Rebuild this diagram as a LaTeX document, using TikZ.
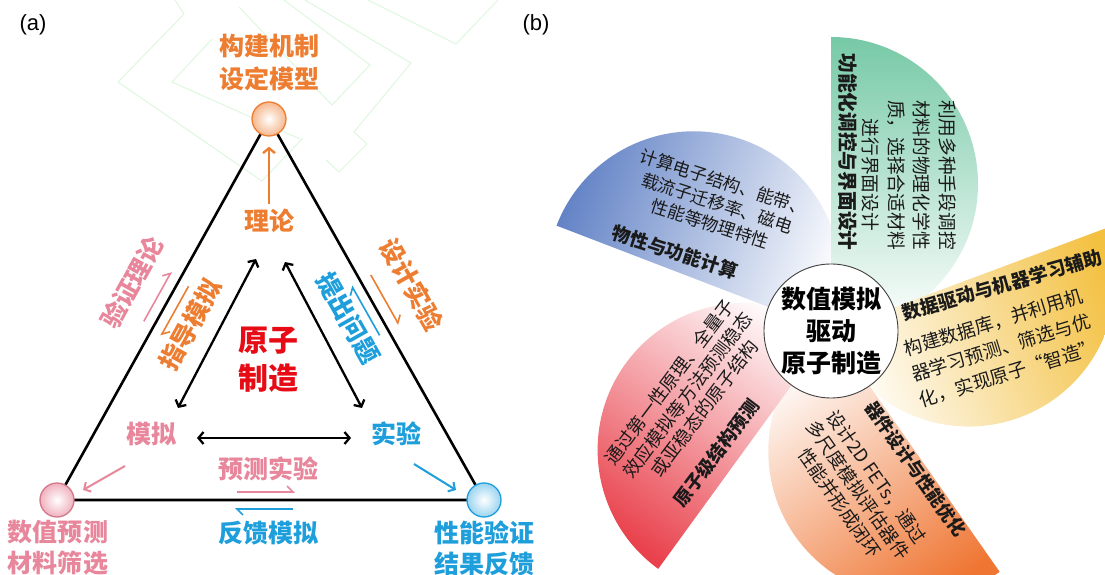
\documentclass[tikz,border=0pt]{standalone}
\usepackage{fontspec}
\setmainfont{Liberation Sans}
\newfontfamily\cjk{Noto Sans CJK SC}
\usetikzlibrary{arrows.meta,calc}
\definecolor{orA}{HTML}{ED7D31}
\definecolor{pkA}{HTML}{E8879B}
\definecolor{blA}{HTML}{1E9FDC}
\definecolor{rdA}{HTML}{E60B14}
\definecolor{bgline}{HTML}{DFF7DF}
\definecolor{pgreen}{HTML}{76C9A6}
\definecolor{pblue}{HTML}{6383C6}
\definecolor{pred}{HTML}{E9424D}
\definecolor{porange}{HTML}{EF7532}
\definecolor{pyellow}{HTML}{F3C040}
\definecolor{txt}{HTML}{1A1A1A}
\begin{document}
\begin{tikzpicture}[x=1pt,y=1pt,
  lab/.style={font=\cjk\bfseries\fontsize{25}{31}\selectfont, align=center, inner sep=0pt},
  side/.style={line width=2.6pt, black},
  dbl/.style={line width=2.3pt, {Straight Barb[length=5pt,width=12pt]}-{Straight Barb[length=5pt,width=12pt]}},
  sgl/.style={line width=2.3pt, -{Straight Barb[length=5pt,width=12pt]}},
  harp/.style={line width=1.6pt, -{Straight Barb[left,length=6pt,width=12pt]}},
  ball/.style={circle, minimum size=34pt, inner sep=0pt, line width=1.3pt},
  ptitle/.style={font=\cjk\bfseries\fontsize{#1}{#1}\selectfont, text=txt, inner sep=0pt},
  pbody/.style n args={2}{font=\cjk\fontsize{#1}{#2}\selectfont, text=txt, align=center, inner sep=0pt},
]
\useasboundingbox (0,0) rectangle (1105,575);
\fill[white] (0,0) rectangle (1105,575);

% faint background decoration
\begin{scope}[bgline, line width=1pt]
\draw (175,575) -- (184,561) -- (118,493) -- (262,394) -- (303,437);
\draw (212,536) -- (172,493) -- (300,436);
\draw (239,568) -- (332,470) -- (370,510) -- (284,575);
\draw (305,575) -- (411,512) -- (354,443) -- (367,431) -- (339,403) -- (326,415);
\draw (368,575) -- (456,531) -- (498,575);
\end{scope}

% ---------- panel (a) ----------
\node[font=\fontsize{22}{22}\selectfont, inner sep=0pt] (pa) at (33,550) {(a)};
\node[font=\fontsize{22}{22}\selectfont, inner sep=0pt] (pb) at (536,550) {(b)};

\coordinate (Tc) at (269,456);
\coordinate (Lc) at (57,75);
\coordinate (Rc) at (484,75);
\draw[side] (Tc) -- (Lc) -- (Rc) -- cycle;
\node[ball, draw=orA, inner color=white, outer color=orA!55!white] (T) at (Tc) {};
\node[ball, draw=pkA!90!black, inner color=white, outer color=pkA!65!white] (L) at (Lc) {};
\node[ball, draw=blA, inner color=white, outer color=blA!45!white] (R) at (Rc) {};

\node[lab, text=orA, font=\cjk\bfseries\fontsize{25}{33}\selectfont] (topl) at (269,512) {构建机制\\设定模型};
\node[lab, text=orA] (th) at (269,354) {理论};
\draw[sgl, orA, shorten <=5pt, shorten >=10pt] (th) -- (T);

\node[lab, text=rdA, font=\cjk\bfseries\fontsize{30}{38}\selectfont] (core) at (268,215) {原子\\制造};
\node[lab, text=pkA] (sim) at (151,141) {模拟};
\node[lab, text=blA] (exp) at (396,141) {实验};

\coordinate (h1) at (197,137); \coordinate (h2) at (351,137);
\draw[dbl] (h1) -- (h2);
\coordinate (d1) at (256,316); \coordinate (d2) at (178,167);
\draw[dbl] (d1) -- (d2);
\coordinate (d3) at (285,313); \coordinate (d4) at (362,167);
\draw[dbl] (d3) -- (d4);

\coordinate (p1) at (125,109); \coordinate (p2) at (83,85);
\draw[line width=2pt, pkA, -{Straight Barb[length=5pt,width=11pt]}] (p1) -- (p2);
\coordinate (b1) at (414,111); \coordinate (b2) at (456,85);
\draw[line width=2pt, blA, -{Straight Barb[length=5pt,width=11pt]}] (b1) -- (b2);

% left side labels
\coordinate (lm) at ($(Lc)!0.52!(Tc)$);
\coordinate (lm2) at ($(Lc)!0.50!(Tc)$);
\node[lab, text=pkA, rotate=61] (vt) at ($(lm)!40pt!90:(Tc)$) {验证理论};
\node[lab, text=orA, rotate=61] (gm) at ($(lm2)!31pt!-90:(Tc)$) {指导模拟};
\coordinate (l1) at ($(Lc)!0.455!(Tc)$); \coordinate (l2) at ($(Lc)!0.585!(Tc)$);
\coordinate (pk1) at ($(l1)!11pt!90:(Tc)$); \coordinate (pk2) at ($(l2)!11pt!90:(Tc)$);
\draw[harp, pkA] (pk1) -- (pk2);
\coordinate (l3) at ($(Lc)!0.445!(Tc)$); \coordinate (l4) at ($(Lc)!0.575!(Tc)$);
\coordinate (og1) at ($(l4)!11pt!-90:(Tc)$); \coordinate (og2) at ($(l3)!11pt!-90:(Tc)$);
\draw[harp, orA] (og1) -- (og2);

% right side labels
\coordinate (rm) at ($(Tc)!0.49!(Rc)$);
\coordinate (rm2) at ($(Tc)!0.485!(Rc)$);
\node[lab, text=orA, rotate=-60.5] (de) at ($(rm)!43pt!90:(Rc)$) {设计实验};
\node[lab, text=blA, rotate=-60.5] (pq) at ($(rm2)!29pt!-90:(Rc)$) {提出问题};
\coordinate (r1) at ($(Tc)!0.425!(Rc)$); \coordinate (r2) at ($(Tc)!0.555!(Rc)$);
\coordinate (or1) at ($(r1)!12pt!90:(Rc)$); \coordinate (or2) at ($(r2)!12pt!90:(Rc)$);
\draw[harp, orA] (or1) -- (or2);
\coordinate (bl1) at ($(r2)!10pt!-90:(Rc)$); \coordinate (bl2) at ($(r1)!10pt!-90:(Rc)$);
\draw[harp, blA] (bl1) -- (bl2);

% bottom labels
\node[lab, text=pkA] (pe) at (268,106) {预测实验};
\coordinate (hp1) at (237,83); \coordinate (hp2) at (295,83);
\draw[harp, pkA] (hp1) -- (hp2);
\coordinate (hb1) at (293,66); \coordinate (hb2) at (235,66);
\draw[harp, blA] (hb1) -- (hb2);
\node[lab, text=blA] (fb) at (268,42) {反馈模拟};
\node[lab, text=pkA] (lt) at (58,27) {数值预测\\材料筛选};
\node[lab, text=blA] (rtl) at (484,27) {性能验证\\结果反馈};

% ---------- panel (b) ----------
\coordinate (C) at (831,244);
\def\yelpetal{($(C)+(20.5:294)$) arc[start angle=20.5, end angle=-159.5, radius=147] -- cycle}
\shade[top color=pyellow, bottom color=white, shading angle=-69.5] \yelpetal;
\shade[top color=porange, bottom color=white, shading angle=215] ($(C)+(305:294)$) arc[start angle=305, end angle=125, radius=147] -- cycle;
\shade[top color=pred, bottom color=white, shading angle=144] ($(C)+(234:294)$) arc[start angle=234, end angle=54, radius=147] -- cycle;
\shade[top color=pblue, bottom color=white, shading angle=69] ($(C)+(159:294)$) arc[start angle=159, end angle=-21, radius=147] -- cycle;
\shade[top color=pgreen, bottom color=white, shading angle=0] ($(C)+(90:294)$) arc[start angle=90, end angle=-90, radius=147] -- cycle;
\begin{scope}
\clip ($(C)+(90:294)$) arc[start angle=90, end angle=-90, radius=147] -- cycle;
\shade[top color=pyellow, bottom color=white, shading angle=-69.5] \yelpetal;
\end{scope}

\node[ptitle=19.7, rotate=-90] (gt) at (848,423) {功能化调控与界面设计};
\node[pbody={18.7}{25.7}, rotate=-90] (gb) at (909,400) {利用多种手段调控\\材料的物理化学性\\质，选择合适材料\\进行界面设计};
\node[ptitle=18.6, rotate=-18] (bt) at (675,323) {物性与功能计算};
\node[pbody={17.5}{22}, rotate=-18] (bb) at (717,372) {计算电子结构、能带、\\载流子迁移率、磁电\\性能等物理特性};
\node[ptitle=18.3, rotate=53] (rdt) at (716,122) {原子级结构预测};
\node[pbody={18.3}{22}, rotate=53] (rdb) at (687,180) {通过第一性原理、全量子\\效应模拟等方法预测稳态\\或亚稳态的原子结构};
\node[ptitle=17.8, rotate=-55] (ot) at (916,106) {器件设计与性能优化};
\node[pbody={18.3}{22.5}, rotate=-55] (ob) at (858,85) {设计2D FETs，通过\\多尺度模拟评估器件\\性能并形成闭环};
\node[ptitle=18.8, rotate=16] (yt) at (1002,290) {数据驱动与机器学习辅助};
\node[pbody={18.6}{26.5}, rotate=17] (yb) at (1001,227) {构建数据库，并利用机\\器学习预测、筛选与优\\化，实现原子“智造”};

\node[circle, draw=black!75, line width=0.9pt, fill=white, minimum size=134pt, inner sep=0pt, align=center, font=\cjk\bfseries\fontsize{25}{32}\selectfont] (hub) at (C) {数值模拟\\驱动\\原子制造};
\end{tikzpicture}
\end{document}
